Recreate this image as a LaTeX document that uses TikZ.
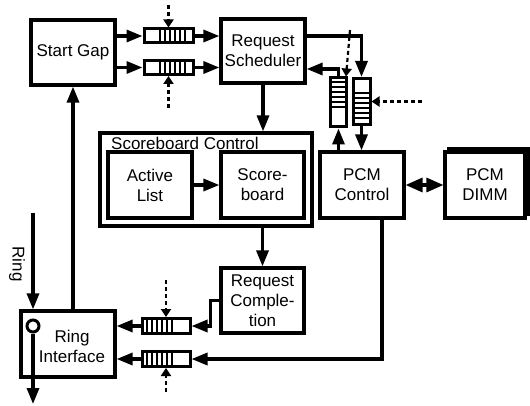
\documentclass[tikz,border=0pt]{standalone}
\usepackage{fontspec}
\setmainfont{Liberation Sans}
\usetikzlibrary{arrows.meta,calc}
\begin{document}
\begin{tikzpicture}[x=1pt,y=-1pt,
  txt/.style={font=\fontsize{17}{20}\selectfont, align=center, inner sep=0pt},
  box/.style={txt, draw, line width=3.2pt, rectangle, fill=white},
  queue/.style={draw, line width=3pt, fill=white, inner sep=0pt},
  stripe/.style={line width=2pt},
  arr/.style={line width=3.2pt, -{Triangle[length=16pt,width=12pt]}},
  dotarr/.style={line width=2.2pt, dash pattern=on 4pt off 3pt, -{Triangle[length=8pt,width=10pt]}},
  biarr/.style={line width=3.2pt, {Triangle[length=17pt,width=14pt]}-{Triangle[length=17pt,width=14pt]}}]
\useasboundingbox (0,0) rectangle (530,406);

% main blocks
\node[box, minimum width=84pt, minimum height=65pt] (sg) at (73,52.5) {Start Gap};
\node[box, minimum width=84pt, minimum height=64pt] (rs) at (263,51) {Request\\Scheduler};
\node[box, minimum width=212pt, minimum height=93pt] (sbc) at (206,179.5) {};
\node[txt, anchor=base west] (sbclabel) at (111,150) {Scoreboard Control};
\node[box, minimum width=84pt, minimum height=66pt] (al) at (150,185) {Active\\List};
\node[box, minimum width=83pt, minimum height=66pt] (sb) at (262.5,185) {Score-\\board};
\node[box, minimum width=84pt, minimum height=66pt] (pcm) at (362,185) {PCM\\Control};
\node[box, minimum width=80pt, minimum height=66pt] (dimmback) at (488.5,181.5) {};
\node[box, minimum width=80pt, minimum height=66pt] (dimm) at (485,185) {PCM\\DIMM};
\node[box, minimum width=83pt, minimum height=65pt] (rc) at (262.5,300.5) {Request\\Comple-\\tion};
\node[box, minimum width=94pt, minimum height=66pt] (ri) at (68,344) {};
\node[txt] (ritext) at (72,346) {Ring\\Interface};

% queues
\node[queue, minimum width=49pt, minimum height=14pt] (q1) at (168.5,36) {};
\node[queue, minimum width=49pt, minimum height=14pt] (q2) at (168.5,67.5) {};
\node[queue, minimum width=48pt, minimum height=15pt] (q3) at (166,326) {};
\node[queue, minimum width=48pt, minimum height=15pt] (q4) at (166,359) {};
\node[queue, minimum width=16pt, minimum height=49pt] (qa) at (338.5,102.5) {};
\node[queue, minimum width=17pt, minimum height=46pt] (qb) at (361.5,101.5) {};

% queue slots
\foreach \d in {17,22,...,42} {
  \draw[stripe] ([xshift=\d pt]q1.north west) -- ([xshift=\d pt]q1.south west);
  \draw[stripe] ([xshift=\d pt]q2.north west) -- ([xshift=\d pt]q2.south west);
}
\foreach \d in {6,11,...,31} {
  \draw[stripe] ([xshift=\d pt]q3.north west) -- ([xshift=\d pt]q3.south west);
  \draw[stripe] ([xshift=\d pt]q4.north west) -- ([xshift=\d pt]q4.south west);
  \draw[stripe] ([yshift=-\d pt]qa.north west) -- ([yshift=-\d pt]qa.north east);
}
\foreach \d in {16,21,...,41} {
  \draw[stripe] ([yshift=-\d pt]qb.north west) -- ([yshift=-\d pt]qb.north east);
}

% data paths
\draw[arr] (sg.east |- q1.west) -- (q1.west);
\draw[arr] (sg.east |- q2.west) -- (q2.west);
\draw[arr] (q1.east) -- (q1.east -| rs.west);
\draw[arr] (q2.east) -- (q2.east -| rs.west);
\draw[arr] (rs.east |- q1.east) -| (qb.north);
\draw[arr] (qa.north) |- ([yshift=-18pt]rs.east);
\draw[arr] (pcm.north -| qa.south) -- (qa.south);
\draw[arr] (qb.south) -- (qb.south |- pcm.north);
\draw[biarr] (pcm.east) -- (pcm.east -| dimm.west);
\draw[arr] (rs.south) -- (rs.south |- sbc.north);
\draw[arr] (al.east) -- (sb.west);
\draw[arr] (rc.north |- sbc.south) -- (rc.north);
\draw[arr] (rc.west) -- ++(-9,0) |- (q3.east);
\draw[arr] ([xshift=20pt]pcm.south) |- (q4.east);
\draw[arr] (q3.west) -- (q3.west -| ri.east);
\draw[arr] (q4.west) -- (q4.west -| ri.east);
\draw[arr] (sg.south |- ri.north) -- (sg.south);

% control inputs
\coordinate (d1) at (168.5,5);
\coordinate (d2) at (168.5,108);
\coordinate (d3) at (350,30);
\coordinate (d4) at (422,101.5);
\coordinate (d5) at (166,280);
\coordinate (d6) at (166,392);
\draw[dotarr] (d1) -- (q1.north);
\draw[dotarr] (d2) -- (q2.south);
\draw[dotarr] (d3) -- ([xshift=-2pt]qa.north east);
\draw[dotarr] (d4) -- (qb.east);
\draw[dotarr] (d5) -- (q3.north);
\draw[dotarr] (d6) -- (q4.south);

% ring
\coordinate (ringtop) at (33,213);
\coordinate (ringbot) at (33,404);
\node[draw, circle, line width=3pt, fill=white, minimum size=12pt, inner sep=0pt] (ringc) at (33,326) {};
\draw[arr] (ringtop) -- (ringtop |- ri.north);
\draw[arr] (ringc.south) -- (ringbot);
\node[txt, rotate=-90] (ringlbl) at (17,264) {Ring};
\end{tikzpicture}
\end{document}
